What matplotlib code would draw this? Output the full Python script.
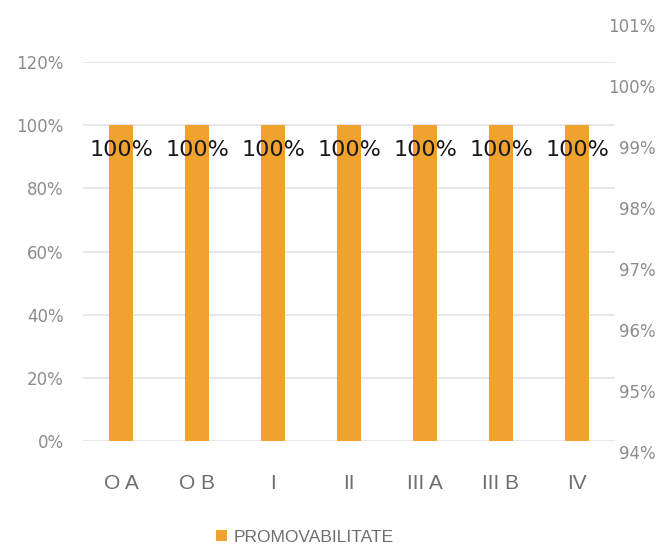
import matplotlib
matplotlib.use("Agg")
import matplotlib.pyplot as plt
from matplotlib.ticker import FuncFormatter

categories = ["O A", "O B", "I", "II", "III A", "III B", "IV"]
values = [100, 100, 100, 100, 100, 100, 100]
left_ticks = [0, 20, 40, 60, 80, 100, 120]
right_ticks = [94, 95, 96, 97, 98, 99, 100, 101]
series_name = "PROMOVABILITATE"

bar_color = "#F0A22E"
grid_color = "#E3E3E3"
tick_color = "#8C8C8C"

fig = plt.figure(figsize=(6.59, 5.47), dpi=100)
ax = fig.add_axes([83/659, 1-441/547, 532/659, (441-62)/547])

x = range(len(categories))
bars = ax.bar(x, values, width=0.31, color=bar_color, zorder=3, label=series_name)
ax.set_xlim(-0.5, len(categories)-0.5)
ax.set_ylim(0, 120)
ax.set_yticks(left_ticks)
ax.yaxis.set_major_formatter(FuncFormatter(lambda v, p: f"{int(v)}%"))
ax.grid(axis="y", color=grid_color, linewidth=1.2, zorder=0)
for s in ax.spines.values():
    s.set_visible(False)
ax.tick_params(axis="y", length=0, labelsize=12, labelcolor=tick_color, pad=14)
ax.tick_params(axis="x", length=0, labelsize=15, labelcolor="#6E6E6E", pad=24)
ax.set_xticks(list(x))
ax.set_xticklabels(categories, family="Liberation Sans")
for lbl in ax.get_yticklabels():
    lbl.set_family("DejaVu Sans")

for xi, v in zip(x, values):
    ax.annotate(f"{v}%", (xi, v), xytext=(0, -25), textcoords="offset pixels",
                ha="center", va="center", fontsize=16, color="#1A1A1A", zorder=5)

# secondary axis (independent scale as in reference)
ax2 = fig.add_axes([83/659, 1-452/547, 532/659, (452-25)/547])
ax2.patch.set_visible(False)
ax2.set_ylim(94, 101)
ax2.set_yticks(right_ticks)
ax2.yaxis.set_major_formatter(FuncFormatter(lambda v, p: f"{int(v)}%"))
ax2.yaxis.tick_right()
ax2.set_xticks([])
for s in ax2.spines.values():
    s.set_visible(False)
ax2.tick_params(axis="y", length=0, labelsize=12, labelcolor=tick_color, pad=29)
for lbl in ax2.get_yticklabels():
    lbl.set_horizontalalignment("right")

leg = ax.legend(loc="center", bbox_to_anchor=(305/659, 1-537/547), bbox_transform=fig.transFigure,
                frameon=False, handlelength=0.6, handleheight=0.6, handletextpad=0.4,
                labelcolor="#6E6E6E", prop={"family": "Liberation Sans", "size": 12.5})

fig.savefig("out.png", dpi=100)
